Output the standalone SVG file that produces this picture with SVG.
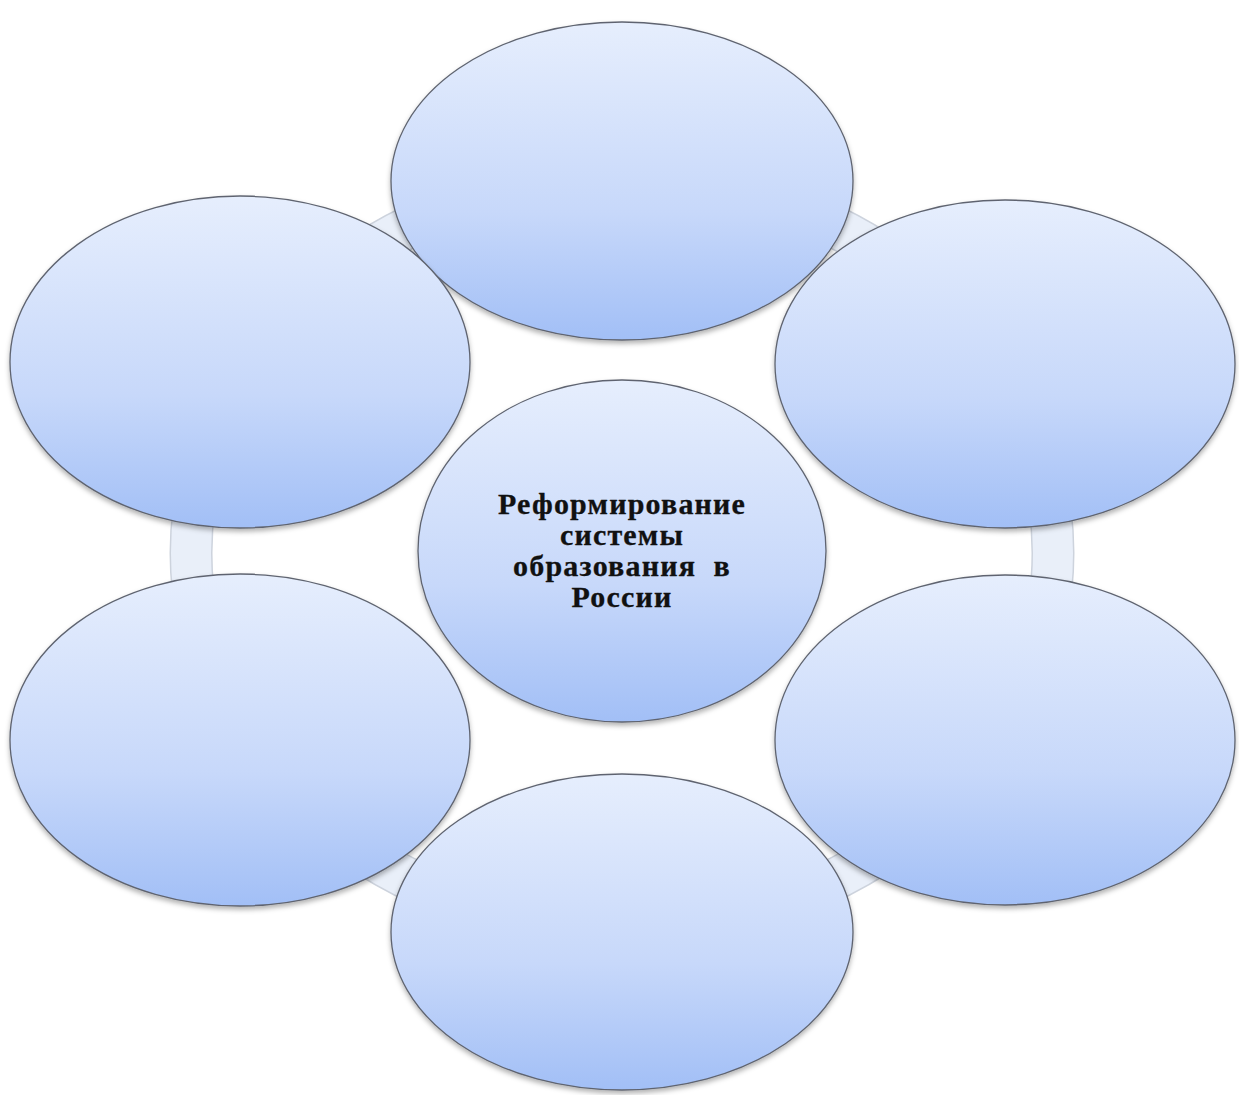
<svg xmlns="http://www.w3.org/2000/svg" width="1239" height="1095" viewBox="0 0 1239 1095">
<defs>
<linearGradient id="g" x1="0" y1="0" x2="0" y2="1">
<stop offset="0" stop-color="#e6eefd"/>
<stop offset="0.6" stop-color="#c7d8fa"/>
<stop offset="1" stop-color="#a2bff6"/>
</linearGradient>
<filter id="sh" x="-10%" y="-10%" width="120%" height="125%">
<feDropShadow dx="0" dy="3" stdDeviation="2.5" flood-color="#000" flood-opacity="0.3"/>
</filter>
</defs>
<style>
.n{fill:url(#g);stroke:#5f6470;stroke-width:1.3;filter:url(#sh)}
.t{font-family:"Liberation Serif","Times New Roman",serif;font-weight:bold;font-size:30px;fill:#111;stroke:#111;stroke-width:0.3;text-anchor:middle;letter-spacing:1.2px}
</style>
<rect width="1239" height="1095" fill="#fff"/>
<g id="connectors">
<ellipse cx="622" cy="553" rx="431" ry="375" fill="none" stroke="#cdd3dd" stroke-width="43"/>
<ellipse cx="622" cy="553" rx="431" ry="375" fill="none" stroke="#e9eff9" stroke-width="40"/>
</g>
<g id="node-top"><ellipse class="n" cx="622" cy="181" rx="231" ry="159"/></g>
<g id="node-upper-right"><ellipse class="n" cx="1005" cy="364" rx="230" ry="164"/></g>
<g id="node-lower-right"><ellipse class="n" cx="1005" cy="740" rx="230" ry="165"/></g>
<g id="node-bottom"><ellipse class="n" cx="622" cy="932" rx="231" ry="158"/></g>
<g id="node-lower-left"><ellipse class="n" cx="240" cy="740" rx="230" ry="166"/></g>
<g id="node-upper-left"><ellipse class="n" cx="240" cy="362" rx="230" ry="166"/></g>
<g id="node-center">
<ellipse class="n" cx="622" cy="551" rx="204" ry="171"/>
<text class="t" x="622" y="514">Реформирование</text>
<text class="t" x="622" y="545">системы</text>
<text class="t" x="622" y="576" xml:space="preserve">образования  в</text>
<text class="t" x="622" y="607">России</text>
</g>
</svg>
